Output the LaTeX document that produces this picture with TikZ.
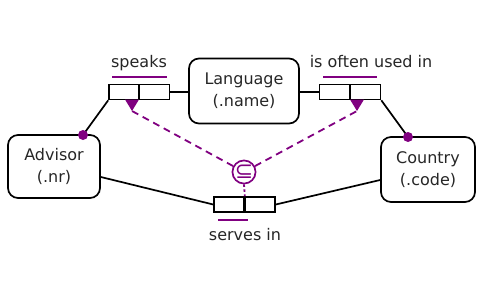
\documentclass[tikz,border=0pt]{standalone}
\usepackage{fontspec}
\setmainfont{DejaVu Sans}
\definecolor{subsetpurple}{RGB}{128,0,128}
\begin{document}
\begin{tikzpicture}[x=1pt,y=-1pt,
  every node/.style={font=\fontsize{16}{22}\selectfont, text=black!85},
  entity/.style={draw, line width=1.7pt, rounded corners=10pt, align=center, inner sep=0pt},
  rolecell/.style={draw, line width=1.6pt, minimum width=30pt, minimum height=15pt, inner sep=0pt},
  link/.style={line width=1.7pt},
  subsetline/.style={subsetpurple, line width=1.8pt, dash pattern=on 7pt off 5pt},
  roleline/.style={subsetpurple, line width=2pt},
  mandatory/.style={circle, fill=subsetpurple, inner sep=0pt, minimum size=10pt},
  arrowtri/.style={fill=subsetpurple}
]
\useasboundingbox (0,0) rectangle (484,297);

% entity types
\node[entity, minimum width=110pt, minimum height=65pt] (lang) at (244,91) {Language\\(.name)};
\node[entity, minimum width=92pt, minimum height=63pt] (adv) at (54,166.5) {Advisor\\(.nr)};
\node[entity, minimum width=94pt, minimum height=65pt] (ctry) at (428,169.5) {Country\\(.code)};

% fact type: speaks
\node[rolecell] (spA) at (124,92) {};
\node[rolecell] (spB) at (154.5,92) {};
\node (spT) at (139,63) {speaks};
\draw[roleline] (112,76.5) -- (167,76.5);

% fact type: is often used in
\node[rolecell] (ouA) at (334.5,92) {};
\node[rolecell] (ouB) at (365.5,92) {};
\node (ouT) at (371,62) {is often used in};
\draw[roleline] (323,76.5) -- (377,76.5);

% fact type: serves in
\node[rolecell] (svA) at (229,204.5) {};
\node[rolecell] (svB) at (260,204.5) {};
\node (svT) at (245,235) {serves in};
\draw[roleline] (218,219.5) -- (248,219.5);

% role connectors
\draw[link] (spB.east) -- (lang.west |- spB.east);
\draw[link] (ouA.west) -- (lang.east |- ouA.west);
\coordinate (advTop) at (83,135);
\coordinate (ctryTop) at (408,137);
\draw[link] (spA.south west) -- (advTop);
\draw[link] (ouB.south east) -- (ctryTop);
\draw[link] (adv.east |- 0,177) -- (svA.west);
\draw[link] (svB.east) -- (ctry.west |- 0,180);
\node[mandatory] (advDot) at (advTop) {};
\node[mandatory] (ctryDot) at (ctryTop) {};

% subset constraint
\node[circle, draw=subsetpurple, line width=1.7pt, minimum size=21pt, inner sep=0pt, text=subsetpurple,
      font=\fontsize{22}{22}\selectfont] (sub) at (244,172) {\raisebox{0.5pt}{⊆}};
\coordinate (tipA) at (132,111);
\coordinate (tipB) at (357,111);
\fill[arrowtri] (125,99.5) -- (139,99.5) -- (tipA) -- cycle;
\fill[arrowtri] (350,99.5) -- (364,99.5) -- (tipB) -- cycle;
\draw[subsetline] (sub) -- (tipA);
\draw[subsetline] (sub) -- (tipB);
\draw[subsetpurple, line width=1.8pt, dash pattern=on 2.5pt off 2.5pt] (sub.south) -- (svA.north east);
\end{tikzpicture}
\end{document}
